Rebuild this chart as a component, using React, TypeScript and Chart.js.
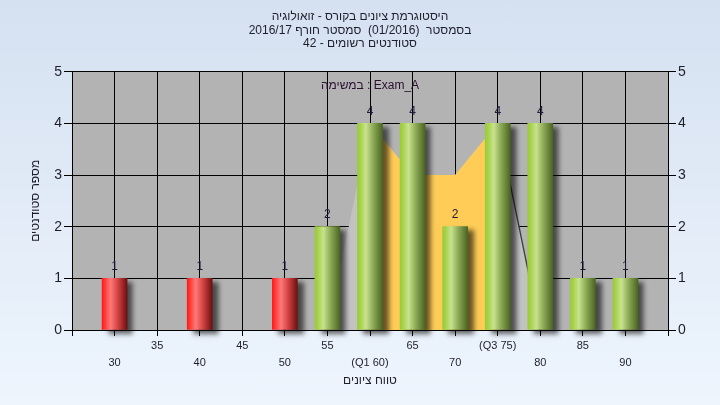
import React, { useEffect, useRef } from 'react';
import { Chart, registerables } from 'chart.js';

Chart.register(...registerables);

// ---- data ----
const titleLines = [
  'היסטוגרמת ציונים בקורס - זואולוגיה',
  'בסמסטר  (01/2016)  סמסטר חורף 2016/17',
  'סטודנטים רשומים - 42',
];
const legendText = 'במשימה : Exam_A';
const yTitle = 'מספר סטודנטים';
const xTitle = 'טווח ציונים';

const gradeBins = [30, 35, 40, 45, 50, 55, 60, 65, 70, 75, 80, 85, 90];
const binLabels = ['30', '35', '40', '45', '50', '55', '(Q1 60)', '65', '70', '(Q3 75)', '80', '85', '90'];
const studentCounts = [1, 0, 1, 0, 1, 2, 4, 4, 2, 4, 4, 1, 1];
const passGrade = 55;

const curveX = [55, 60, 65, 70, 75, 80];
const curveY = [0, 4, 3, 3, 4, 0];
const q1 = 60;
const q3 = 75;

const xMin = 25;
const xMax = 95;
const yMax = 5;

// ---- styles ----
const FONT = '"Liberation Sans", Arial, sans-serif';
const BAR_W = 25;
const TEXT = '#1e1e2a';

const barFill = (c: any) => {
  const raw = c.raw || {};
  const pass = raw.x >= passGrade;
  const fallback = pass ? '#9ccc3c' : '#ff2020';
  const chart = c.chart;
  const xs = chart.scales && chart.scales.x;
  if (c.type !== 'data' || !xs) return fallback;
  const px = xs.getPixelForValue(raw.x);
  if (!isFinite(px)) return fallback;
  const g = chart.ctx.createLinearGradient(px - BAR_W / 2, 0, px + BAR_W / 2, 0);
  if (pass) {
    g.addColorStop(0, '#9acb38');
    g.addColorStop(0.12, '#a6d24c');
    g.addColorStop(0.34, '#c9e28e');
    g.addColorStop(0.62, '#8dab57');
    g.addColorStop(1, '#4b6522');
  } else {
    g.addColorStop(0, '#ff1a1a');
    g.addColorStop(0.12, '#ff3a3a');
    g.addColorStop(0.34, '#ff7a7a');
    g.addColorStop(0.62, '#d64444');
    g.addColorStop(1, '#6c1010');
  }
  return g;
};

const bgPlugin = {
  id: 'plotBg',
  beforeDraw(chart: any) {
    const { ctx, chartArea: a } = chart;
    ctx.save();
    ctx.fillStyle = '#b3b3b3';
    ctx.fillRect(a.left, a.top, a.right - a.left, a.bottom - a.top);
    ctx.restore();
  },
};

const shadowPlugin = {
  id: 'barShadow',
  beforeDatasetDraw(chart: any, args: any) {
    if (args.meta.type !== 'bar') return;
    const ctx = chart.ctx;
    ctx.save();
    ctx.shadowColor = 'rgba(0,0,0,0.6)';
    ctx.shadowOffsetX = 6;
    ctx.shadowOffsetY = 4;
    ctx.shadowBlur = 5;
  },
  afterDatasetDraw(chart: any, args: any) {
    if (args.meta.type !== 'bar') return;
    chart.ctx.restore();
  },
};

const labelPlugin = {
  id: 'valueLabels',
  afterDatasetsDraw(chart: any) {
    const { ctx, chartArea: a } = chart;
    ctx.save();
    chart.data.datasets.forEach((ds: any, di: number) => {
      const meta = chart.getDatasetMeta(di);
      if (meta.type !== 'bar') return;
      meta.data.forEach((el: any, i: number) => {
        const v = studentCounts[i];
        if (!v) return;
        ctx.font = `12px ${FONT}`;
        ctx.fillStyle = '#1c1c3a';
        ctx.textAlign = 'center';
        ctx.textBaseline = 'bottom';
        ctx.fillText(String(v), el.x, el.y - 6);
      });
    });
    ctx.font = `12px ${FONT}`;
    ctx.fillStyle = '#2a1030';
    ctx.textAlign = 'center';
    ctx.textBaseline = 'middle';
    ctx.fillText(legendText, (a.left + a.right) / 2, a.top + 14);
    ctx.restore();
  },
};

export default function App() {
  const ref = useRef<HTMLCanvasElement>(null);

  useEffect(() => {
    document.body.style.margin = '0';
    const canvas = ref.current;
    if (!canvas) return;

    const curvePts = curveX.map((x, i) => ({ x, y: curveY[i] }));
    const iqrPts = curvePts.filter((p) => p.x >= q1 && p.x <= q3);
    const tailPts = curvePts.filter((p) => p.x >= q3);

    const chart = new Chart(canvas, {
      type: 'bar',
      data: {
        datasets: [
          {
            type: 'bar',
            data: gradeBins.map((x, i) => ({ x, y: studentCounts[i] > 0 ? studentCounts[i] : null })),
            backgroundColor: barFill,
            borderWidth: 0,
            barThickness: BAR_W,
            clip: false as any,
            order: 0,
          } as any,
          {
            type: 'line',
            data: tailPts,
            borderColor: '#3c3c3c',
            borderWidth: 1.3,
            pointRadius: 0,
            fill: false,
            order: 1,
          },
          {
            type: 'line',
            data: iqrPts,
            borderWidth: 0,
            borderColor: 'rgba(0,0,0,0)',
            backgroundColor: '#ffcc57',
            pointRadius: 0,
            fill: 'origin',
            order: 2,
          },
          {
            type: 'line',
            data: curvePts,
            borderWidth: 0,
            borderColor: 'rgba(0,0,0,0)',
            backgroundColor: '#c2c2c2',
            pointRadius: 0,
            fill: 'origin',
            order: 3,
          },
        ],
      },
      options: {
        responsive: false,
        animation: false,
        events: [],
        layout: { padding: 0 },
        plugins: {
          legend: { display: false },
          tooltip: { enabled: false },
          title: {
            display: true,
            text: titleLines,
            color: TEXT,
            font: { size: 12, family: FONT, weight: 'normal', lineHeight: 1.13 },
            padding: { top: 10, bottom: 21 },
          },
        },
        scales: {
          x: {
            type: 'linear',
            min: xMin,
            max: xMax,
            offset: false,
            position: 'bottom',
            afterFit: (s: any) => {
              s.height = 75;
            },
            grid: { color: '#000', lineWidth: 1, tickLength: 6, offset: false, tickColor: '#000' },
            border: { color: '#000' },
            ticks: {
              stepSize: 5,
              autoSkip: false,
              maxRotation: 0,
              minRotation: 0,
              color: TEXT,
              padding: 2,
              font: { size: 11, family: FONT, lineHeight: 1.5 },
              callback: (v: any) => {
                const idx = gradeBins.indexOf(Number(v));
                if (idx < 0) return '';
                return idx % 2 === 0 ? ['', binLabels[idx]] : [binLabels[idx], ''];
              },
            },
            title: {
              display: true,
              text: xTitle,
              color: TEXT,
              font: { size: 12, family: FONT, lineHeight: 1.2 },
              padding: { top: 0, bottom: 17 },
            },
          },
          y: {
            position: 'left',
            min: 0,
            max: yMax,
            afterFit: (s: any) => {
              s.width = 72;
            },
            grid: { color: '#000', lineWidth: 1, tickLength: 8, tickColor: '#000' },
            border: { color: '#000' },
            ticks: { stepSize: 1, color: TEXT, padding: 2, font: { size: 14, family: FONT } },
            title: {
              display: true,
              text: yTitle,
              color: TEXT,
              font: { size: 12, family: FONT, lineHeight: 1.2 },
              padding: { top: 28, bottom: 0 },
            },
          },
          y2: {
            position: 'right',
            min: 0,
            max: yMax,
            afterFit: (s: any) => {
              s.width = 52;
            },
            grid: { drawOnChartArea: false, color: '#000', tickLength: 8, tickColor: '#000' },
            border: { color: '#000' },
            ticks: { stepSize: 1, color: TEXT, padding: 2, font: { size: 14, family: FONT } },
          },
        },
      } as any,
      plugins: [bgPlugin, shadowPlugin, labelPlugin],
    });

    return () => chart.destroy();
  }, []);

  return (
    <div
      style={{
        position: 'absolute',
        left: 0,
        top: 0,
        width: 720,
        height: 405,
        background: 'linear-gradient(to bottom, #d5e1f1 0%, #eef5fd 100%)',
      }}
    >
      <canvas ref={ref} width={720} height={405} style={{ display: 'block' }} />
    </div>
  );
}
